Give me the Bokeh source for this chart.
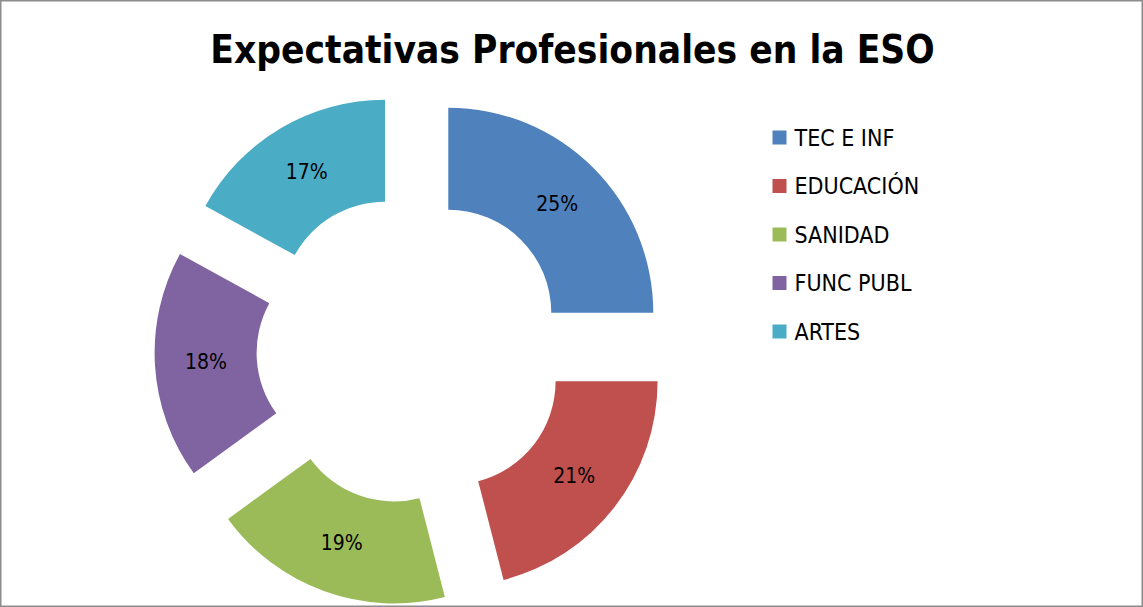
import numpy as np
from bokeh.plotting import figure
from bokeh.models import Range1d, ColumnDataSource
from bokeh.core.properties import value
from bokeh.embed import file_html
from bokeh.resources import INLINE

# ---- data ----
categories = ["TEC E INF", "EDUCACIÓN", "SANIDAD", "FUNC PUBL", "ARTES"]
percentages = [25, 21, 19, 18, 17]
colors = ["#4F81BD", "#C0504D", "#9BBB59", "#8064A2", "#4BACC6"]
title_text = "Expectativas Profesionales en la ESO"

# ---- layout (pixels == data units) ----
W, H = 1143, 607
cx, cy = 411, H - 349
explode = 52
r_in, r_out = 103, 205
FONT = "'Liberation Sans Narrow', 'DejaVu Sans Condensed', sans-serif"

vals = np.array(percentages, dtype=float)
frac = vals / vals.sum()
cum = np.cumsum(frac)
start = np.pi / 2 - 2 * np.pi * (cum - frac)
end = np.pi / 2 - 2 * np.pi * cum
mid = (start + end) / 2
x = cx + explode * np.cos(mid)
y = cy + explode * np.sin(mid)
lx = x + (r_in + r_out) / 2 * np.cos(mid)
ly = y + (r_in + r_out) / 2 * np.sin(mid)

src = ColumnDataSource(dict(
    x=x, y=y, start=start, end=end, color=colors,
    lx=lx, ly=ly, label=[f"{v:.0f}%" for v in vals],
    cat=categories,
    gx=[779] * len(categories),
    gy=[H - (137 + i * 48.5) for i in range(len(categories))],
    tx=[794] * len(categories),
))

p = figure(width=W, height=H, output_backend="svg", toolbar_location=None,
           x_range=Range1d(0, W), y_range=Range1d(0, H), min_border=0,
           margin=(0, 0, 0, 0))
p.axis.visible = False
p.grid.visible = False
p.outline_line_color = "#8c8c8c"
p.outline_line_width = 2
p.background_fill_color = "white"
p.border_fill_color = "white"

p.annular_wedge(x="x", y="y", inner_radius=r_in, outer_radius=r_out,
                start_angle="start", end_angle="end", direction="clock",
                fill_color="color", line_color=None, source=src)

p.text(x="lx", y="ly", text="label", source=src, text_align="center",
       text_baseline="middle", text_font=value(FONT),
       text_font_size="21px", text_color="black")

# legend
p.scatter(x="gx", y="gy", marker="square", size=14, fill_color="color",
          line_color=None, source=src)
p.text(x="tx", y="gy", text="cat", source=src, text_align="left",
       text_baseline="middle", text_font=value(FONT),
       text_font_size="23px", text_color="black")

# title
p.text(x=[572], y=[H - 49], text=[title_text], text_align="center",
       text_baseline="middle", text_font=value(FONT), text_font_style="bold",
       text_font_size="38.5px", text_color="black")

open("out.html", "w").write(file_html(p, INLINE))
